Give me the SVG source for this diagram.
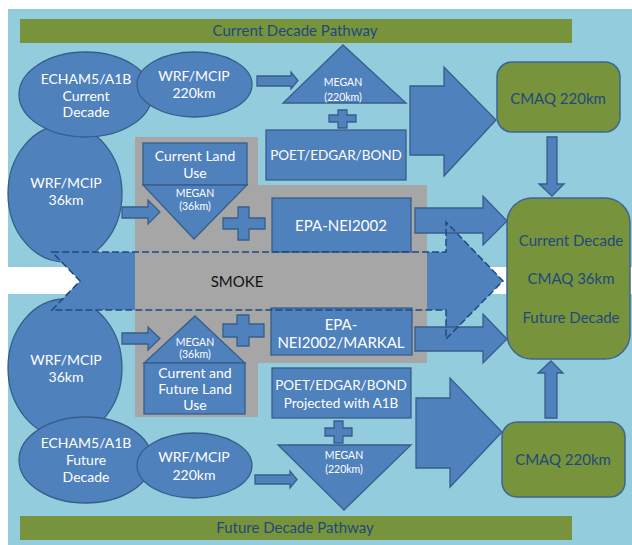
<svg xmlns="http://www.w3.org/2000/svg" width="632" height="545" viewBox="0 0 632 545">
<style>
.b{fill:#4F81BD;stroke:#385D8A;stroke-width:1.3}
.g{fill:#77933C;stroke:#3E6691;stroke-width:1.5}
.w{fill:#FFFFFF;font-family:Lato,"Liberation Sans",sans-serif;text-anchor:middle}
.d{fill:#1F497D;font-family:Lato,"Liberation Sans",sans-serif;text-anchor:middle}
.t14{font-size:14px}.t13{font-size:13.5px}.t15{font-size:15px}.t10{font-size:10.5px}
</style>
<rect x="0" y="0" width="632" height="545" fill="#FFFFFF"/>
<rect x="8" y="9" width="624" height="258" fill="#93CDDD"/>
<rect x="8" y="294" width="624" height="251" fill="#93CDDD"/>
<g id="current-pathway">
<rect x="20" y="19" width="552" height="24" fill="#77933C"/>
<text class="d t15" x="295" y="36">Current Decade Pathway</text>
</g>
<g id="future-pathway">
<rect x="20" y="516" width="552" height="24" fill="#77933C"/>
<text class="d t15" x="295" y="533">Future Decade Pathway</text>
</g>
<g id="wrf36-top"><ellipse class="b" cx="65" cy="193.5" rx="57" ry="68.5"/></g>
<g id="wrf36-bottom"><ellipse class="b" cx="65" cy="368" rx="57" ry="69"/></g>
<g id="echam-current"><ellipse class="b" cx="85.5" cy="94.5" rx="66.5" ry="42.5"/>
<text class="w t14" x="86" y="84">ECHAM5/A1B</text><text class="w t14" x="86" y="101">Current</text><text class="w t14" x="86" y="117">Decade</text></g>
<g id="echam-future"><ellipse class="b" cx="85.5" cy="460" rx="66.5" ry="43"/>
<text class="w t14" x="86" y="448">ECHAM5/A1B</text><text class="w t14" x="86" y="465">Future</text><text class="w t14" x="86" y="482">Decade</text></g>
<g id="wrf220-top"><ellipse class="b" cx="194.5" cy="84.5" rx="57.5" ry="32.5"/>
<text class="w t14" x="194" y="81">WRF/MCIP</text><text class="w t14" x="194" y="98">220km</text></g>
<g id="wrf220-bottom"><ellipse class="b" cx="194.5" cy="465.5" rx="57.5" ry="32.5"/>
<text class="w t14" x="194" y="462">WRF/MCIP</text><text class="w t14" x="194" y="480">220km</text></g>
<g id="wrf36-labels">
<text class="w t14" x="66" y="188">WRF/MCIP</text><text class="w t14" x="66" y="205">36km</text>
<text class="w t14" x="66" y="365">WRF/MCIP</text><text class="w t14" x="66" y="382">36km</text>
</g>
<g id="smoke-fill"><polygon points="52,252 446,252 446,222 503,281 446,339 446,310 52,310 80,281" fill="#4F81BD"/></g>
<g id="smoke-area"><polygon points="135,137 258,137 258,185 427,185 427,363 258,363 258,417 135,417" fill="#A6A6A6"/></g>
<g id="land-current"><rect class="b" x="143" y="143" width="104" height="42"/>
<text class="w t14" x="195" y="161">Current Land</text><text class="w t14" x="195" y="178">Use</text></g>
<g id="megan36-top"><polygon class="b" points="143,185 247,185 194,239"/>
<text class="w t10" x="195" y="197">MEGAN</text><text class="w t10" x="195" y="210">(36km)</text></g>
<g id="megan36-bottom"><polygon class="b" points="144,363 245,363 195,316"/>
<text class="w t10" x="195" y="346">MEGAN</text><text class="w t10" x="195" y="358">(36km)</text></g>
<g id="land-future"><rect class="b" x="144" y="363" width="101" height="51"/>
<text class="w t14" x="195" y="378">Current and</text><text class="w t14" x="195" y="394">Future Land</text><text class="w t14" x="195" y="410">Use</text></g>
<g id="megan220-top"><polygon class="b" points="283,103 406,103 343,45"/>
<text class="w t10" x="343" y="86">MEGAN</text><text class="w t10" x="343" y="101">(220km)</text></g>
<g id="megan220-bottom"><polygon class="b" points="278,445 411,445 344,510"/>
<text class="w t10" x="344" y="459">MEGAN</text><text class="w t10" x="344" y="473">(220km)</text></g>
<g id="poet-top"><rect class="b" x="266" y="130" width="140" height="50"/>
<text class="w t13" x="336" y="160">POET/EDGAR/BOND</text></g>
<g id="epa-nei"><rect class="b" x="272" y="198" width="139" height="54"/>
<text class="w t15" x="341" y="231">EPA-NEI2002</text></g>
<g id="epa-markal"><rect class="b" x="271" y="308" width="141" height="47"/>
<text class="w t15" x="341" y="330">EPA-</text><text class="w t15" x="341" y="348">NEI2002/MARKAL</text></g>
<g id="poet-projected"><rect class="b" x="272" y="368" width="139" height="50"/>
<text class="w t13" x="341" y="390">POET/EDGAR/BOND</text><text class="w t13" x="341" y="408">Projected with A1B</text></g>
<g id="cmaq220-top"><rect class="g" x="497" y="62" width="123" height="70" rx="15"/>
<text class="d t15" x="558" y="104">CMAQ 220km</text></g>
<g id="cmaq220-bottom"><rect class="g" x="502" y="422" width="123" height="75" rx="15"/>
<text class="d t15" x="563" y="465">CMAQ 220km</text></g>
<g id="cmaq36"><rect class="g" x="507" y="198" width="123" height="161" rx="25"/>
<text class="d t15" x="571" y="246">Current Decade</text><text class="d t15" x="571" y="284">CMAQ 36km</text><text class="d t15" x="571" y="323">Future Decade</text></g>
<g id="connectors">
<polygon class="b" points="257,76 291,76 291,72 298,80.5 291,89 291,86 257,86"/>
<polygon class="b" points="255,475 290,475 290,471 297,479.5 290,488 290,484 255,484"/>
<polygon class="b" points="122,207 148,207 148,200 160,212 148,224 148,218 122,218"/>
<polygon class="b" points="122,333 148,333 148,327 160,338.5 148,350 148,344 122,344"/>
<polygon class="b" points="338,110 347,110 347,115 356,115 356,122 347,122 347,128 338,128 338,122 329,122 329,115 338,115"/>
<polygon class="b" points="334,421 343,421 343,428 352,428 352,436 343,436 343,443 334,443 334,436 325,436 325,428 334,428"/>
<polygon class="b" points="238,207 249,207 249,218 265,218 265,229 249,229 249,240 238,240 238,229 223,229 223,218 238,218"/>
<polygon class="b" points="237,315 249,315 249,324 264,324 264,337 249,337 249,346 237,346 237,337 223,337 223,324 237,324"/>
<polygon class="b" points="410,86 444,86 444,67 496,120 444,176 444,155 410,155"/>
<polygon class="b" points="416,398 450,398 450,378 502,432 450,487 450,468 416,468"/>
<polygon class="b" points="415,208 483,208 483,196 507,221 483,245 483,233 415,233"/>
<polygon class="b" points="415,327 483,327 483,314 507,339 483,363 483,351 415,351"/>
<polygon class="b" points="547,137 557,137 557,184 564,184 552,196 539,184 547,184"/>
<polygon class="b" points="545,418 557,418 557,373 563,373 551,361 538,373 545,373"/>
</g>
<g id="smoke">
<polygon points="52,252 446,252 446,222 503,281 446,339 446,310 52,310 80,281" fill="none" stroke="#1F497D" stroke-width="1.5" stroke-dasharray="7,3"/>
<text x="237" y="287" font-family="Lato,'Liberation Sans',sans-serif" font-size="15" text-anchor="middle" fill="#111111">SMOKE</text>
</g>
</svg>
